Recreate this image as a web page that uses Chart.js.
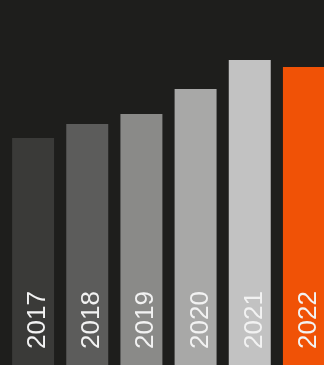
<!DOCTYPE html>
<html>
<head>
<meta charset="utf-8">
<script src="https://cdn.jsdelivr.net/npm/chart.js@4"></script>
<style>
html, body { margin: 0; padding: 0; background: #1e1e1c; overflow: hidden; }
#wrap { width: 331px; height: 365px; }
</style>
</head>
<body>
<div id="wrap"><canvas id="bars"></canvas></div>
<script>
var years = ['2017', '2018', '2019', '2020', '2021', '2022'];
var values = [227, 241, 251, 276, 305, 298];
var colors = ['#3a3a38', '#5c5c5b', '#8a8a88', '#a8a8a7', '#c2c2c2', '#f05206'];

// year labels drawn rotated inside each bar
var yearLabels = {
	id: 'yearLabels',
	afterDatasetsDraw: function(chart) {
		var ctx = chart.ctx;
		var meta = chart.getDatasetMeta(0);
		ctx.save();
		ctx.fillStyle = '#f2f2f2';
		ctx.font = '26px "Liberation Sans", Arial, sans-serif';
		ctx.textAlign = 'left';
		ctx.textBaseline = 'alphabetic';
		meta.data.forEach(function(bar, i) {
			ctx.save();
			ctx.translate(bar.x + 12, chart.chartArea.bottom - 16);
			ctx.rotate(-Math.PI / 2);
			ctx.fillText(years[i], 0, 0);
			ctx.restore();
		});
		ctx.restore();
	}
};

var ctx = document.getElementById('bars').getContext('2d');
var chart = new Chart(ctx, {
	type: 'bar',
	data: {
		labels: years,
		datasets: [{
			data: values,
			backgroundColor: colors,
			borderWidth: 0,
			categoryPercentage: 1,
			barPercentage: 0.775
		}]
	},
	options: {
		responsive: true,
		maintainAspectRatio: false,
		animation: false,
		layout: { padding: { left: 6, right: 0, top: 0, bottom: 0 } },
		plugins: { legend: { display: false }, tooltip: { enabled: false } },
		scales: {
			x: { display: false },
			y: { display: false, min: 0, max: 365 }
		}
	},
	plugins: [yearLabels]
});
</script>
</body>
</html>
